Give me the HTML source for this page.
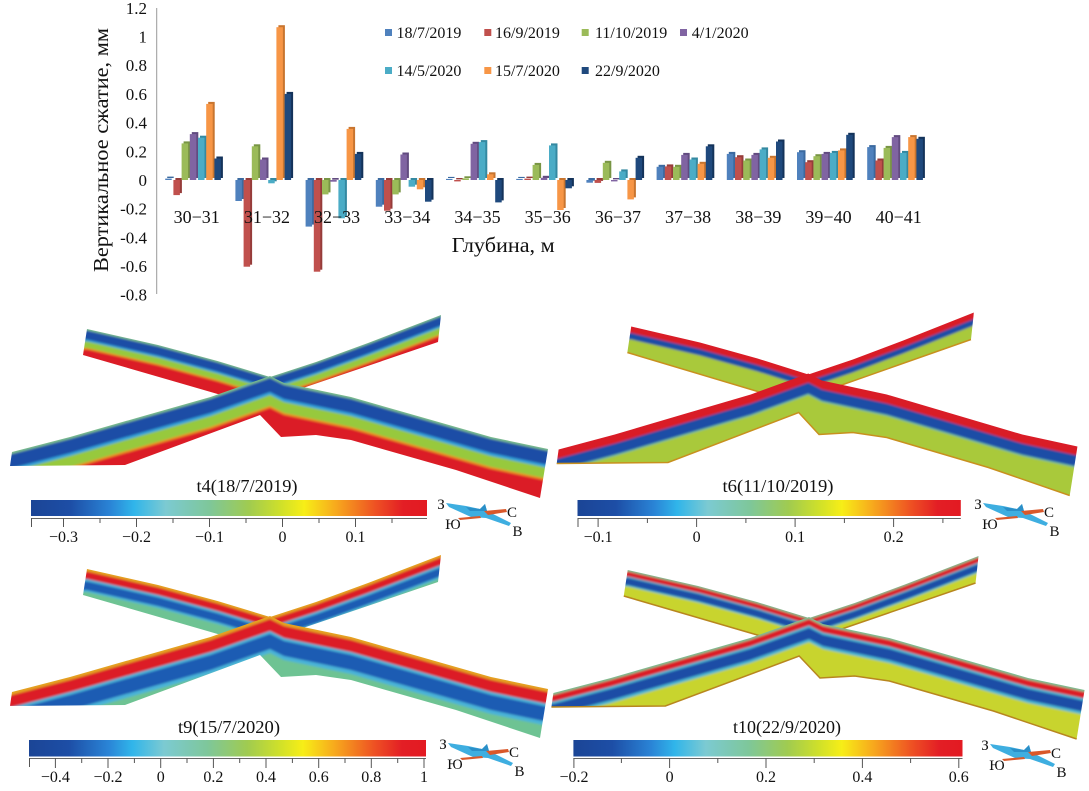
<!DOCTYPE html>
<html><head><meta charset="utf-8"><style>
html,body{margin:0;padding:0;background:#fff;}
svg{display:block;}
text{font-family:"Liberation Serif","Noto Serif CJK SC",serif;fill:#111;}
.f1{fill:#4f81bd}.d1{fill:#3b6aa0}
.f2{fill:#c0504d}.d2{fill:#963c3a}
.f3{fill:#9bbb59}.d3{fill:#789544}
.f4{fill:#8064a2}.d4{fill:#624b80}
.f5{fill:#4bacc6}.d5{fill:#3489a1}
.f6{fill:#f79646}.d6{fill:#c8752f}
.f7{fill:#1f497d}.d7{fill:#14335a}
.tk{stroke:#555;stroke-width:1}
</style></head><body>
<svg width="1089" height="791" viewBox="0 0 1089 791" xmlns="http://www.w3.org/2000/svg">
<defs>
<filter id="bl" x="-5%" y="-5%" width="110%" height="110%"><feGaussianBlur stdDeviation="1.1"/></filter>
<linearGradient id="cb" x1="0" y1="0" x2="1" y2="0">
<stop offset="0" stop-color="#1b4596"/><stop offset="0.1" stop-color="#1d4ea6"/>
<stop offset="0.2" stop-color="#2a84d6"/><stop offset="0.26" stop-color="#30b5ea"/>
<stop offset="0.34" stop-color="#7ccad2"/><stop offset="0.45" stop-color="#7ec79a"/>
<stop offset="0.55" stop-color="#a0cb50"/><stop offset="0.63" stop-color="#cfe02a"/>
<stop offset="0.69" stop-color="#f7ee17"/><stop offset="0.77" stop-color="#f7a91d"/>
<stop offset="0.87" stop-color="#ee5123"/><stop offset="0.94" stop-color="#e31e25"/>
<stop offset="1" stop-color="#e31a22"/>
</linearGradient>
<path id="tF" d="M-20,452 L12,452 L70,437 L140,417 L210.5,397 L270,376 L284,383 L351,397 L421,417 L491,437 L548,449 L600,449 L600,200 L-20,200 Z"/>
<path id="tB" d="M40,329 L87,329 L158,345 L217.5,361 L270,377 L316,362 L368,343 L441,315 L480,315 L480,150 L40,150 Z"/>
<clipPath id="cF"><path d="M12,452 L70,437 L140,417 L210.5,397 L270,376 L284,383 L351,397 L421,417 L491,437 L548,449 L540,498 L456,470 L351,440 L316,435 L281,437 L260,415 L125,465 L10,466 Z"/></clipPath>
<clipPath id="cB"><path d="M87,329 L158,345 L217.5,361 L270,377 L316,362 L368,343 L441,315 L438,342 L300,389 L270,415 L228,397 L83,355 Z"/></clipPath>
<g id="compass">
<polygon points="446,503 466,506 480,509 485,504 487,511 511,523 509,526 486,518 471,517 449,507" fill="#3eaee0"/>
<polygon points="466,507 480,509 485,504 487,511 470,511" fill="#2a8fc8"/>
<polygon points="484,511 506,509 507,512 488,515" fill="#d9582a"/>
<polygon points="458,518 480,516 481,518 460,520" fill="#d9582a"/>
<text x="441" y="509" font-size="15" text-anchor="middle">З</text>
<text x="512" y="517" font-size="15" text-anchor="middle">С</text>
<text x="453" y="529" font-size="15" text-anchor="middle">Ю</text>
<text x="517.5" y="536" font-size="15" text-anchor="middle">В</text>
</g>
</defs>

<!-- ===== Bar chart ===== -->
<line x1="156.7" y1="8" x2="156.7" y2="294" stroke="#999" stroke-width="1"/>
<g font-size="17" text-anchor="end">
<text x="147" y="13.8">1.2</text>
<text x="147" y="42.5">1</text>
<text x="147" y="71.2">0.8</text>
<text x="147" y="99.9">0.6</text>
<text x="147" y="128.6">0.4</text>
<text x="147" y="157.3">0.2</text>
<text x="147" y="186">0</text>
<text x="147" y="214.7">-0.2</text>
<text x="147" y="243.4">-0.4</text>
<text x="147" y="272.1">-0.6</text>
<text x="147" y="300.3">-0.8</text>
</g>
<text transform="translate(108,150) rotate(-90)" font-size="21" text-anchor="middle" textLength="244" lengthAdjust="spacingAndGlyphs">Вертикальное сжатие, мм</text>

<!-- bars -->
<g transform="translate(196.7,180)">
<rect class="d1" x="-29.5" y="-3.4" width="6.5" height="1.4"/><rect class="f1" x="-31.5" y="-1.4" width="6.5" height="1.4"/>
<rect class="d2" x="-21.3" y="-2" width="6.5" height="15.1"/><rect class="f2" x="-23.3" y="0" width="6.5" height="15.1"/>
<rect class="d3" x="-13.1" y="-38.6" width="6.5" height="36.6"/><rect class="f3" x="-15.1" y="-36.6" width="6.5" height="36.6"/>
<rect class="d4" x="-4.9" y="-47.9" width="6.5" height="45.9"/><rect class="f4" x="-6.9" y="-45.9" width="6.5" height="45.9"/>
<rect class="d5" x="3.3" y="-44.3" width="6.5" height="42.3"/><rect class="f5" x="1.3" y="-42.3" width="6.5" height="42.3"/>
<rect class="d6" x="11.5" y="-78.1" width="6.5" height="76.1"/><rect class="f6" x="9.5" y="-76.1" width="6.5" height="76.1"/>
<rect class="d7" x="19.7" y="-23.5" width="6.5" height="21.5"/><rect class="f7" x="17.7" y="-21.5" width="6.5" height="21.5"/>
</g>
<g transform="translate(266.9,180)">
<rect class="d1" x="-29.5" y="-2" width="6.5" height="21"/><rect class="f1" x="-31.5" y="0" width="6.5" height="21"/>
<rect class="d2" x="-21.3" y="-2" width="6.5" height="86.7"/><rect class="f2" x="-23.3" y="0" width="6.5" height="86.7"/>
<rect class="d3" x="-13.1" y="-35.7" width="6.5" height="33.7"/><rect class="f3" x="-15.1" y="-33.7" width="6.5" height="33.7"/>
<rect class="d4" x="-4.9" y="-22.5" width="6.5" height="20.5"/><rect class="f4" x="-6.9" y="-20.5" width="6.5" height="20.5"/>
<rect class="d5" x="3.3" y="-2" width="6.5" height="3.3"/><rect class="f5" x="1.3" y="0" width="6.5" height="3.3"/>
<rect class="d6" x="11.5" y="-154.8" width="6.5" height="152.8"/><rect class="f6" x="9.5" y="-152.8" width="6.5" height="152.8"/>
<rect class="d7" x="19.7" y="-88.1" width="6.5" height="86.1"/><rect class="f7" x="17.7" y="-86.1" width="6.5" height="86.1"/>
</g>
<g transform="translate(337.1,180)">
<rect class="d1" x="-29.5" y="-2" width="6.5" height="46.6"/><rect class="f1" x="-31.5" y="0" width="6.5" height="46.6"/>
<rect class="d2" x="-21.3" y="-2" width="6.5" height="91.7"/><rect class="f2" x="-23.3" y="0" width="6.5" height="91.7"/>
<rect class="d3" x="-13.1" y="-2" width="6.5" height="14.4"/><rect class="f3" x="-15.1" y="0" width="6.5" height="14.4"/>
<rect class="d4" x="-4.9" y="-2" width="6.5" height="1.7"/><rect class="f4" x="-6.9" y="0" width="6.5" height="1.7"/>
<rect class="d5" x="3.3" y="-2" width="6.5" height="38.3"/><rect class="f5" x="1.3" y="0" width="6.5" height="38.3"/>
<rect class="d6" x="11.5" y="-53.1" width="6.5" height="51.1"/><rect class="f6" x="9.5" y="-51.1" width="6.5" height="51.1"/>
<rect class="d7" x="19.7" y="-28.1" width="6.5" height="26.1"/><rect class="f7" x="17.7" y="-26.1" width="6.5" height="26.1"/>
</g>
<g transform="translate(407.3,180)">
<rect class="d1" x="-29.5" y="-2" width="6.5" height="26.7"/><rect class="f1" x="-31.5" y="0" width="6.5" height="26.7"/>
<rect class="d2" x="-21.3" y="-2" width="6.5" height="30.7"/><rect class="f2" x="-23.3" y="0" width="6.5" height="30.7"/>
<rect class="d3" x="-13.1" y="-2" width="6.5" height="14.4"/><rect class="f3" x="-15.1" y="0" width="6.5" height="14.4"/>
<rect class="d4" x="-4.9" y="-27.5" width="6.5" height="25.5"/><rect class="f4" x="-6.9" y="-25.5" width="6.5" height="25.5"/>
<rect class="d5" x="3.3" y="-2" width="6.5" height="6.7"/><rect class="f5" x="1.3" y="0" width="6.5" height="6.7"/>
<rect class="d6" x="11.5" y="-2" width="6.5" height="9.3"/><rect class="f6" x="9.5" y="0" width="6.5" height="9.3"/>
<rect class="d7" x="19.7" y="-2" width="6.5" height="21.7"/><rect class="f7" x="17.7" y="0" width="6.5" height="21.7"/>
</g>
<g transform="translate(477.5,180)">
<rect class="d1" x="-29.5" y="-3.1" width="6.5" height="1.1"/><rect class="f1" x="-31.5" y="-1.1" width="6.5" height="1.1"/>
<rect class="d2" x="-21.3" y="-2" width="6.5" height="1.4"/><rect class="f2" x="-23.3" y="0" width="6.5" height="1.4"/>
<rect class="d3" x="-13.1" y="-3.7" width="6.5" height="1.7"/><rect class="f3" x="-15.1" y="-1.7" width="6.5" height="1.7"/>
<rect class="d4" x="-4.9" y="-38.2" width="6.5" height="36.2"/><rect class="f4" x="-6.9" y="-36.2" width="6.5" height="36.2"/>
<rect class="d5" x="3.3" y="-39.9" width="6.5" height="37.9"/><rect class="f5" x="1.3" y="-37.9" width="6.5" height="37.9"/>
<rect class="d6" x="11.5" y="-7.7" width="6.5" height="5.7"/><rect class="f6" x="9.5" y="-5.7" width="6.5" height="5.7"/>
<rect class="d7" x="19.7" y="-2" width="6.5" height="22.4"/><rect class="f7" x="17.7" y="0" width="6.5" height="22.4"/>
</g>
<g transform="translate(547.7,180)">
<rect class="d1" x="-29.5" y="-3.1" width="6.5" height="1.1"/><rect class="f1" x="-31.5" y="-1.1" width="6.5" height="1.1"/>
<rect class="d2" x="-21.3" y="-3.4" width="6.5" height="1.4"/><rect class="f2" x="-23.3" y="-1.4" width="6.5" height="1.4"/>
<rect class="d3" x="-13.1" y="-17.1" width="6.5" height="15.1"/><rect class="f3" x="-15.1" y="-15.1" width="6.5" height="15.1"/>
<rect class="d4" x="-4.9" y="-4.2" width="6.5" height="2.2"/><rect class="f4" x="-6.9" y="-2.2" width="6.5" height="2.2"/>
<rect class="d5" x="3.3" y="-36.6" width="6.5" height="34.6"/><rect class="f5" x="1.3" y="-34.6" width="6.5" height="34.6"/>
<rect class="d6" x="11.5" y="-2" width="6.5" height="30"/><rect class="f6" x="9.5" y="0" width="6.5" height="30"/>
<rect class="d7" x="19.7" y="-2" width="6.5" height="8.3"/><rect class="f7" x="17.7" y="0" width="6.5" height="8.3"/>
</g>
<g transform="translate(617.9,180)">
<rect class="d1" x="-29.5" y="-2" width="6.5" height="2.7"/><rect class="f1" x="-31.5" y="0" width="6.5" height="2.7"/>
<rect class="d2" x="-21.3" y="-2" width="6.5" height="2.9"/><rect class="f2" x="-23.3" y="0" width="6.5" height="2.9"/>
<rect class="d3" x="-13.1" y="-19.2" width="6.5" height="17.2"/><rect class="f3" x="-15.1" y="-17.2" width="6.5" height="17.2"/>
<rect class="d4" x="-4.9" y="-2" width="6.5" height="1.4"/><rect class="f4" x="-6.9" y="0" width="6.5" height="1.4"/>
<rect class="d5" x="3.3" y="-10.6" width="6.5" height="8.6"/><rect class="f5" x="1.3" y="-8.6" width="6.5" height="8.6"/>
<rect class="d6" x="11.5" y="-2" width="6.5" height="19.4"/><rect class="f6" x="9.5" y="0" width="6.5" height="19.4"/>
<rect class="d7" x="19.7" y="-24.2" width="6.5" height="22.2"/><rect class="f7" x="17.7" y="-22.2" width="6.5" height="22.2"/>
</g>
<g transform="translate(688.1,180)">
<rect class="d1" x="-29.5" y="-15.2" width="6.5" height="13.2"/><rect class="f1" x="-31.5" y="-13.2" width="6.5" height="13.2"/>
<rect class="d2" x="-21.3" y="-15.6" width="6.5" height="13.6"/><rect class="f2" x="-23.3" y="-13.6" width="6.5" height="13.6"/>
<rect class="d3" x="-13.1" y="-15.2" width="6.5" height="13.2"/><rect class="f3" x="-15.1" y="-13.2" width="6.5" height="13.2"/>
<rect class="d4" x="-4.9" y="-27.1" width="6.5" height="25.1"/><rect class="f4" x="-6.9" y="-25.1" width="6.5" height="25.1"/>
<rect class="d5" x="3.3" y="-22.5" width="6.5" height="20.5"/><rect class="f5" x="1.3" y="-20.5" width="6.5" height="20.5"/>
<rect class="d6" x="11.5" y="-18.2" width="6.5" height="16.2"/><rect class="f6" x="9.5" y="-16.2" width="6.5" height="16.2"/>
<rect class="d7" x="19.7" y="-35.7" width="6.5" height="33.7"/><rect class="f7" x="17.7" y="-33.7" width="6.5" height="33.7"/>
</g>
<g transform="translate(758.3,180)">
<rect class="d1" x="-29.5" y="-28.1" width="6.5" height="26.1"/><rect class="f1" x="-31.5" y="-26.1" width="6.5" height="26.1"/>
<rect class="d2" x="-21.3" y="-24.8" width="6.5" height="22.8"/><rect class="f2" x="-23.3" y="-22.8" width="6.5" height="22.8"/>
<rect class="d3" x="-13.1" y="-21.5" width="6.5" height="19.5"/><rect class="f3" x="-15.1" y="-19.5" width="6.5" height="19.5"/>
<rect class="d4" x="-4.9" y="-27.1" width="6.5" height="25.1"/><rect class="f4" x="-6.9" y="-25.1" width="6.5" height="25.1"/>
<rect class="d5" x="3.3" y="-32.6" width="6.5" height="30.6"/><rect class="f5" x="1.3" y="-30.6" width="6.5" height="30.6"/>
<rect class="d6" x="11.5" y="-24.2" width="6.5" height="22.2"/><rect class="f6" x="9.5" y="-22.2" width="6.5" height="22.2"/>
<rect class="d7" x="19.7" y="-40.5" width="6.5" height="38.5"/><rect class="f7" x="17.7" y="-38.5" width="6.5" height="38.5"/>
</g>
<g transform="translate(828.5,180)">
<rect class="d1" x="-29.5" y="-29.8" width="6.5" height="27.8"/><rect class="f1" x="-31.5" y="-27.8" width="6.5" height="27.8"/>
<rect class="d2" x="-21.3" y="-19.8" width="6.5" height="17.8"/><rect class="f2" x="-23.3" y="-17.8" width="6.5" height="17.8"/>
<rect class="d3" x="-13.1" y="-25.8" width="6.5" height="23.8"/><rect class="f3" x="-15.1" y="-23.8" width="6.5" height="23.8"/>
<rect class="d4" x="-4.9" y="-28.1" width="6.5" height="26.1"/><rect class="f4" x="-6.9" y="-26.1" width="6.5" height="26.1"/>
<rect class="d5" x="3.3" y="-29.1" width="6.5" height="27.1"/><rect class="f5" x="1.3" y="-27.1" width="6.5" height="27.1"/>
<rect class="d6" x="11.5" y="-31.6" width="6.5" height="29.6"/><rect class="f6" x="9.5" y="-29.6" width="6.5" height="29.6"/>
<rect class="d7" x="19.7" y="-47.2" width="6.5" height="45.2"/><rect class="f7" x="17.7" y="-45.2" width="6.5" height="45.2"/>
</g>
<g transform="translate(898.7,180)">
<rect class="d1" x="-29.5" y="-34.9" width="6.5" height="32.9"/><rect class="f1" x="-31.5" y="-32.9" width="6.5" height="32.9"/>
<rect class="d2" x="-21.3" y="-21.5" width="6.5" height="19.5"/><rect class="f2" x="-23.3" y="-19.5" width="6.5" height="19.5"/>
<rect class="d3" x="-13.1" y="-34.1" width="6.5" height="32.1"/><rect class="f3" x="-15.1" y="-32.1" width="6.5" height="32.1"/>
<rect class="d4" x="-4.9" y="-44.9" width="6.5" height="42.9"/><rect class="f4" x="-6.9" y="-42.9" width="6.5" height="42.9"/>
<rect class="d5" x="3.3" y="-29.1" width="6.5" height="27.1"/><rect class="f5" x="1.3" y="-27.1" width="6.5" height="27.1"/>
<rect class="d6" x="11.5" y="-44.9" width="6.5" height="42.9"/><rect class="f6" x="9.5" y="-42.9" width="6.5" height="42.9"/>
<rect class="d7" x="19.7" y="-43.2" width="6.5" height="41.2"/><rect class="f7" x="17.7" y="-41.2" width="6.5" height="41.2"/>
</g>

<g font-size="18" text-anchor="middle">
<text x="196.7" y="223">30−31</text>
<text x="266.9" y="223">31−32</text>
<text x="337.1" y="223">32−33</text>
<text x="407.3" y="223">33−34</text>
<text x="477.5" y="223">34−35</text>
<text x="547.7" y="223">35−36</text>
<text x="617.9" y="223">36−37</text>
<text x="688.1" y="223">37−38</text>
<text x="758.3" y="223">38−39</text>
<text x="828.5" y="223">39−40</text>
<text x="898.7" y="223">40−41</text>
</g>
<text x="451.7" y="252" font-size="21" textLength="103" lengthAdjust="spacingAndGlyphs">Глубина, м</text>

<!-- legend -->
<g font-size="16">
<rect class="f1" x="385" y="29" width="7" height="7"/><text x="396.5" y="38">18/7/2019</text>
<rect class="f2" x="484.3" y="29" width="7" height="7"/><text x="495" y="38">16/9/2019</text>
<rect class="f3" x="581.7" y="29" width="7" height="7"/><text x="595" y="38">11/10/2019</text>
<rect class="f4" x="680" y="29" width="7" height="7"/><text x="691.7" y="38">4/1/2020</text>
<rect class="f5" x="385" y="67" width="7" height="7"/><text x="396.5" y="76">14/5/2020</text>
<rect class="f6" x="484.3" y="67" width="7" height="7"/><text x="495" y="76">15/7/2020</text>
<rect class="f7" x="581.7" y="67" width="7" height="7"/><text x="595" y="76">22/9/2020</text>
</g>

<!-- ===== Panel 1 : t4 ===== -->
<g>
<g clip-path="url(#cB)"><g filter="url(#bl)">
<rect x="0" y="200" width="600" height="350" fill="#db1f26"/>
<use href="#tB" transform="translate(0,20.5)" fill="#ee8a24"/>
<use href="#tB" transform="translate(0,19)" fill="#97c93c"/>
<use href="#tB" transform="translate(0,12.5)" fill="#35a3da"/>
<use href="#tB" transform="translate(0,10.5)" fill="#1c4ea6"/>
<use href="#tB" transform="translate(0,1.5)" fill="#7dbf8c"/>
</g></g>
<g clip-path="url(#cF)"><g filter="url(#bl)">
<rect x="0" y="200" width="600" height="350" fill="#db1f26"/>
<use href="#tF" transform="translate(0,32)" fill="#ee8a24"/>
<use href="#tF" transform="translate(0,30)" fill="#97c93c"/>
<use href="#tF" transform="translate(0,19)" fill="#35a3da"/>
<use href="#tF" transform="translate(0,16)" fill="#1c4ea6"/>
<use href="#tF" transform="translate(0,2)" fill="#7dbf8c"/>
</g></g>
</g>
<text x="247" y="492" font-size="18" text-anchor="middle" textLength="101" lengthAdjust="spacingAndGlyphs">t4(18/7/2019)</text>
<rect x="31" y="500" width="396" height="16" fill="url(#cb)"/>
<line x1="31" y1="517" x2="427" y2="517" stroke="#fff" stroke-width="1"/>
<line x1="31" y1="518.5" x2="427" y2="518.5" stroke="#666" stroke-width="1"/>
<g class="tk">
<line x1="31.5" y1="518" x2="31.5" y2="527"/>
<line x1="63.5" y1="518" x2="63.5" y2="527"/><line x1="136.5" y1="518" x2="136.5" y2="527"/>
<line x1="209.5" y1="518" x2="209.5" y2="527"/><line x1="282.5" y1="518" x2="282.5" y2="527"/>
<line x1="355.5" y1="518" x2="355.5" y2="527"/>
<line x1="100" y1="518" x2="100" y2="523"/><line x1="173" y1="518" x2="173" y2="523"/>
<line x1="246" y1="518" x2="246" y2="523"/><line x1="319" y1="518" x2="319" y2="523"/>
<line x1="392" y1="518" x2="392" y2="523"/>
</g>
<g font-size="16" text-anchor="middle">
<text x="63.5" y="542">−0.3</text><text x="136.5" y="542">−0.2</text><text x="209.5" y="542">−0.1</text>
<text x="282.5" y="542">0</text><text x="355.5" y="542">0.1</text>
</g>
<use href="#compass"/>

<!-- ===== Panel 2 : t6 ===== -->
<g transform="matrix(0.968,0,0,1,547,-2.5)">
<g clip-path="url(#cB)"><g filter="url(#bl)">
<rect x="0" y="200" width="600" height="350" fill="#a9c93b"/>
<use href="#tB" transform="translate(0,13)" fill="#1c4ea6"/>
<use href="#tB" transform="translate(0,6.5)" fill="#d91f26"/>
</g></g>
<polyline points="83,355 228,397" fill="none" stroke="#c8901e" stroke-width="1.5"/>
<polyline points="438,342 300,389" fill="none" stroke="#c8901e" stroke-width="1.5"/>
<g clip-path="url(#cF)"><g filter="url(#bl)">
<rect x="0" y="200" width="600" height="350" fill="#a9c93b"/>
<use href="#tF" transform="translate(0,21.5)" fill="#5fb3a8"/>
<use href="#tF" transform="translate(0,20)" fill="#1c4ea6"/>
<use href="#tF" transform="translate(0,9)" fill="#d91f26"/>
</g></g>
<polyline points="540,498 456,470 351,440 316,435 281,437 260,415 125,465 10,466" fill="none" stroke="#c8901e" stroke-width="1.5"/>
</g>
<text x="778" y="492" font-size="18" text-anchor="middle" textLength="111" lengthAdjust="spacingAndGlyphs">t6(11/10/2019)</text>
<rect x="577.5" y="500" width="383.3" height="16" fill="url(#cb)"/>
<line x1="577.5" y1="517" x2="960.8" y2="517" stroke="#fff" stroke-width="1"/>
<line x1="577.5" y1="518.5" x2="960.8" y2="518.5" stroke="#666" stroke-width="1"/>
<g class="tk">
<line x1="578" y1="518" x2="578" y2="527"/>
<line x1="598.1" y1="518" x2="598.1" y2="527"/><line x1="696.6" y1="518" x2="696.6" y2="527"/>
<line x1="795.1" y1="518" x2="795.1" y2="527"/><line x1="893.6" y1="518" x2="893.6" y2="527"/>
<line x1="647.4" y1="518" x2="647.4" y2="523"/><line x1="745.9" y1="518" x2="745.9" y2="523"/>
<line x1="844.4" y1="518" x2="844.4" y2="523"/><line x1="942.9" y1="518" x2="942.9" y2="523"/>
</g>
<g font-size="16" text-anchor="middle">
<text x="598.1" y="542">−0.1</text><text x="696.6" y="542">0</text>
<text x="795.1" y="542">0.1</text><text x="893.6" y="542">0.2</text>
</g>
<use href="#compass" transform="translate(537,0)"/>

<!-- ===== Panel 3 : t9 ===== -->
<g transform="translate(0,240)">
<g clip-path="url(#cB)"><g filter="url(#bl)">
<rect x="0" y="200" width="600" height="350" fill="#6ec393"/>
<use href="#tB" transform="translate(0,23)" fill="#49b3d8"/>
<use href="#tB" transform="translate(0,21)" fill="#1f5bb3"/>
<use href="#tB" transform="translate(0,12.5)" fill="#49b3d8"/>
<use href="#tB" transform="translate(0,10)" fill="#dc1f26"/>
<use href="#tB" transform="translate(0,2.5)" fill="#e4a224"/>
</g></g>
<g clip-path="url(#cF)"><g filter="url(#bl)">
<rect x="0" y="200" width="600" height="350" fill="#6ec393"/>
<use href="#tF" transform="translate(0,37)" fill="#49b3d8"/>
<use href="#tF" transform="translate(0,33)" fill="#1f5bb3"/>
<use href="#tF" transform="translate(0,18)" fill="#49b3d8"/>
<use href="#tF" transform="translate(0,15)" fill="#dc1f26"/>
<use href="#tF" transform="translate(0,3)" fill="#e4a224"/>
</g></g>
</g>
<text x="229" y="733" font-size="18" text-anchor="middle" textLength="102" lengthAdjust="spacingAndGlyphs">t9(15/7/2020)</text>
<rect x="29" y="740" width="397" height="16.5" fill="url(#cb)"/>
<line x1="29" y1="757" x2="426" y2="757" stroke="#fff" stroke-width="1"/>
<line x1="29" y1="758.5" x2="426" y2="758.5" stroke="#666" stroke-width="1"/>
<g class="tk">
<line x1="29.5" y1="758" x2="29.5" y2="767"/>
<line x1="55.4" y1="758" x2="55.4" y2="768"/><line x1="108" y1="758" x2="108" y2="768"/>
<line x1="160.7" y1="758" x2="160.7" y2="768"/><line x1="213.4" y1="758" x2="213.4" y2="768"/>
<line x1="266" y1="758" x2="266" y2="768"/><line x1="318.7" y1="758" x2="318.7" y2="768"/>
<line x1="371.3" y1="758" x2="371.3" y2="768"/><line x1="424" y1="758" x2="424" y2="768"/>
<line x1="81.7" y1="758" x2="81.7" y2="763"/><line x1="134.4" y1="758" x2="134.4" y2="763"/>
<line x1="187" y1="758" x2="187" y2="763"/><line x1="239.7" y1="758" x2="239.7" y2="763"/>
<line x1="292.4" y1="758" x2="292.4" y2="763"/><line x1="345" y1="758" x2="345" y2="763"/>
<line x1="397.7" y1="758" x2="397.7" y2="763"/>
</g>
<g font-size="16" text-anchor="middle">
<text x="55.4" y="782">−0.4</text><text x="108" y="782">−0.2</text><text x="160.7" y="782">0</text>
<text x="213.4" y="782">0.2</text><text x="266" y="782">0.4</text><text x="318.7" y="782">0.6</text>
<text x="371.3" y="782">0.8</text><text x="424" y="782">1</text>
</g>
<use href="#compass" transform="translate(2,240)"/>

<!-- ===== Panel 4 : t10 ===== -->
<g transform="matrix(0.991,0,0,1,541.5,241)">
<g clip-path="url(#cB)"><g filter="url(#bl)">
<rect x="0" y="200" width="600" height="350" fill="#c8d42e"/>
<use href="#tB" transform="translate(0,16.5)" fill="#4cb6d2"/>
<use href="#tB" transform="translate(0,15)" fill="#1b4ea6"/>
<use href="#tB" transform="translate(0,8)" fill="#4cb6d2"/>
<use href="#tB" transform="translate(0,6.5)" fill="#dc1f26"/>
<use href="#tB" transform="translate(0,1.5)" fill="#74c294"/>
</g></g>
<polyline points="83,355 228,397" fill="none" stroke="#b8861e" stroke-width="1.5"/>
<polyline points="438,342 300,389" fill="none" stroke="#b8861e" stroke-width="1.5"/>
<g clip-path="url(#cF)"><g filter="url(#bl)">
<rect x="0" y="200" width="600" height="350" fill="#c8d42e"/>
<use href="#tF" transform="translate(0,25)" fill="#4cb6d2"/>
<use href="#tF" transform="translate(0,22)" fill="#1b4ea6"/>
<use href="#tF" transform="translate(0,11)" fill="#4cb6d2"/>
<use href="#tF" transform="translate(0,8.5)" fill="#dc1f26"/>
<use href="#tF" transform="translate(0,2)" fill="#74c294"/>
</g></g>
<polyline points="540,498 456,470 351,440 316,435 281,437 260,415 125,465 10,466" fill="none" stroke="#b8861e" stroke-width="1.5"/>
</g>
<text x="787" y="733" font-size="18" text-anchor="middle" textLength="108" lengthAdjust="spacingAndGlyphs">t10(22/9/2020)</text>
<rect x="573.4" y="740" width="389.1" height="16.5" fill="url(#cb)"/>
<line x1="573.4" y1="757" x2="962.5" y2="757" stroke="#fff" stroke-width="1"/>
<line x1="573.4" y1="758.5" x2="962.5" y2="758.5" stroke="#666" stroke-width="1"/>
<g class="tk">
<line x1="573.9" y1="758" x2="573.9" y2="768"/><line x1="669.6" y1="758" x2="669.6" y2="768"/>
<line x1="766" y1="758" x2="766" y2="768"/><line x1="862.4" y1="758" x2="862.4" y2="768"/>
<line x1="958.8" y1="758" x2="958.8" y2="768"/>
<line x1="621.4" y1="758" x2="621.4" y2="763"/><line x1="717.8" y1="758" x2="717.8" y2="763"/>
<line x1="814.2" y1="758" x2="814.2" y2="763"/><line x1="910.6" y1="758" x2="910.6" y2="763"/>
</g>
<g font-size="16" text-anchor="middle">
<text x="574" y="782">−0.2</text><text x="669.6" y="782">0</text><text x="766" y="782">0.2</text>
<text x="862.4" y="782">0.4</text><text x="958.8" y="782">0.6</text>
</g>
<use href="#compass" transform="translate(544,241)"/>
</svg>
</body></html>
